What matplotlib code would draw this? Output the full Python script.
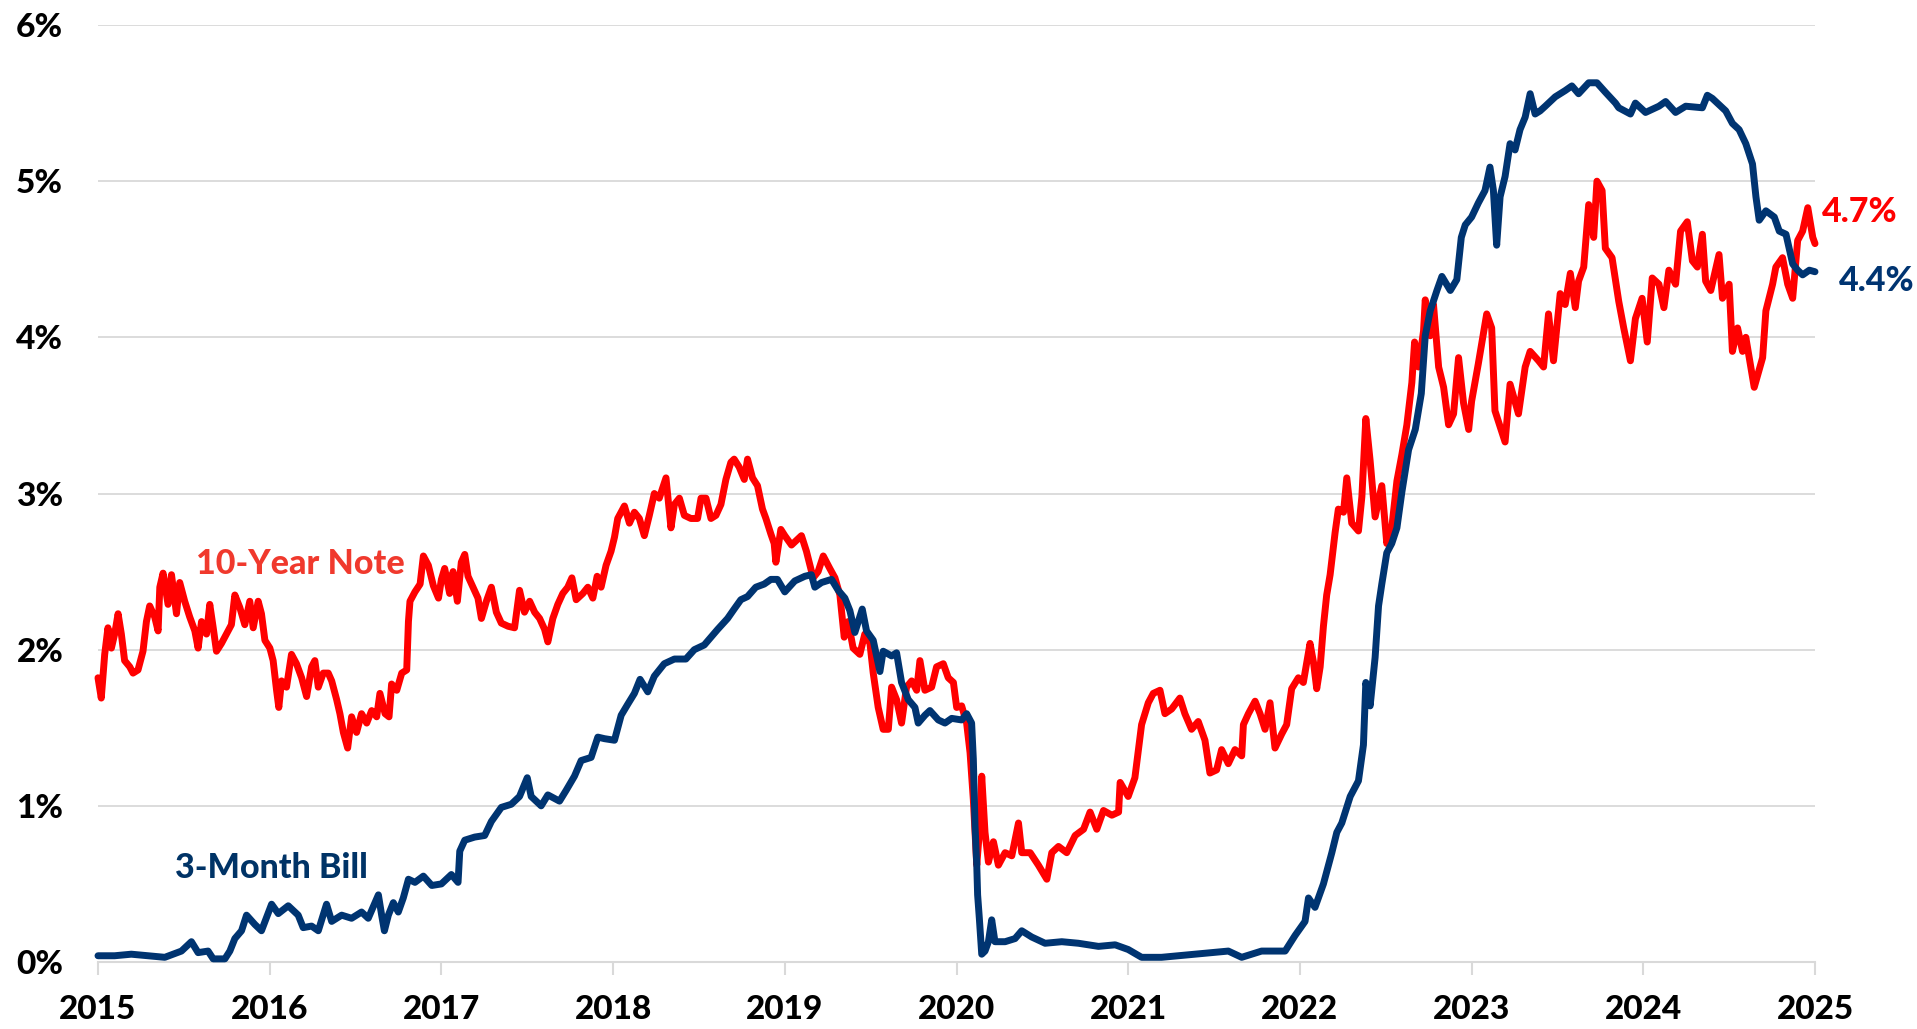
import numpy as np
import matplotlib
matplotlib.use("Agg")
import matplotlib.pyplot as plt

# 10-year note yield (%), by two-year block
ten_x_15 = [2015.000, 2015.019, 2015.039, 2015.058, 2015.078, 2015.097, 2015.117, 2015.136, 2015.155, 2015.185,
            2015.204, 2015.233, 2015.262, 2015.282, 2015.301, 2015.330, 2015.350, 2015.360, 2015.379, 2015.408,
            2015.428, 2015.457, 2015.476, 2015.505, 2015.534, 2015.564, 2015.583, 2015.603, 2015.632, 2015.651,
            2015.671, 2015.690, 2015.719, 2015.748, 2015.777, 2015.797, 2015.826, 2015.855, 2015.884, 2015.904,
            2015.933, 2015.952, 2015.972, 2016.001, 2016.020, 2016.040, 2016.053, 2016.069, 2016.098, 2016.127,
            2016.156, 2016.186, 2016.215, 2016.244, 2016.263, 2016.283, 2016.312, 2016.341, 2016.361, 2016.390,
            2016.409, 2016.429, 2016.454, 2016.477, 2016.506, 2016.535, 2016.565, 2016.594, 2016.623, 2016.642,
            2016.672, 2016.695, 2016.710, 2016.740, 2016.769, 2016.798, 2016.808, 2016.817, 2016.846, 2016.876,
            2016.895, 2016.924, 2016.953, 2016.983]
ten_y_15 = [1.82, 1.69, 1.97, 2.14, 2.01, 2.10, 2.23, 2.10, 1.93, 1.89,
            1.85, 1.87, 1.99, 2.18, 2.28, 2.21, 2.12, 2.40, 2.49, 2.29,
            2.48, 2.23, 2.43, 2.31, 2.21, 2.12, 2.01, 2.18, 2.10, 2.29,
            2.14, 1.99, 2.04, 2.10, 2.16, 2.35, 2.27, 2.16, 2.31, 2.14,
            2.31, 2.23, 2.06, 2.01, 1.93, 1.74, 1.63, 1.80, 1.76, 1.97,
            1.91, 1.82, 1.70, 1.89, 1.93, 1.76, 1.85, 1.85, 1.80, 1.68,
            1.59, 1.47, 1.37, 1.57, 1.47, 1.59, 1.53, 1.61, 1.57, 1.72,
            1.59, 1.57, 1.78, 1.74, 1.85, 1.87, 2.18, 2.31, 2.37, 2.42,
            2.60, 2.54, 2.41, 2.33]

ten_x_17 = [2017.000, 2017.019, 2017.048, 2017.068, 2017.093, 2017.116, 2017.136, 2017.155, 2017.184, 2017.213,
            2017.233, 2017.262, 2017.291, 2017.320, 2017.349, 2017.388, 2017.426, 2017.455, 2017.484, 2017.514,
            2017.543, 2017.572, 2017.601, 2017.620, 2017.649, 2017.678, 2017.707, 2017.736, 2017.760, 2017.785,
            2017.824, 2017.853, 2017.882, 2017.907, 2017.930, 2017.959, 2017.988, 2018.008, 2018.027, 2018.066,
            2018.095, 2018.124, 2018.153, 2018.182, 2018.211, 2018.240, 2018.269, 2018.308, 2018.337, 2018.357,
            2018.386, 2018.415, 2018.453, 2018.492, 2018.512, 2018.541, 2018.570, 2018.599, 2018.628, 2018.657,
            2018.686, 2018.705, 2018.734, 2018.764, 2018.783, 2018.812, 2018.841, 2018.870, 2018.890, 2018.919,
            2018.938, 2018.948, 2018.977]
ten_y_17 = [2.45, 2.52, 2.36, 2.50, 2.31, 2.56, 2.61, 2.47, 2.40, 2.33,
            2.20, 2.31, 2.40, 2.24, 2.17, 2.15, 2.14, 2.38, 2.24, 2.31,
            2.24, 2.20, 2.13, 2.05, 2.20, 2.29, 2.36, 2.40, 2.46, 2.32,
            2.36, 2.40, 2.33, 2.47, 2.40, 2.54, 2.63, 2.72, 2.84, 2.92,
            2.81, 2.88, 2.84, 2.73, 2.86, 3.00, 2.97, 3.10, 2.78, 2.93,
            2.97, 2.86, 2.84, 2.84, 2.97, 2.97, 2.84, 2.86, 2.93, 3.09,
            3.20, 3.22, 3.17, 3.09, 3.22, 3.10, 3.05, 2.90, 2.84, 2.74,
            2.68, 2.56, 2.77]

ten_x_19 = [2019.000, 2019.039, 2019.097, 2019.126, 2019.165, 2019.194, 2019.224, 2019.262, 2019.292, 2019.321,
            2019.346, 2019.369, 2019.398, 2019.437, 2019.466, 2019.496, 2019.515, 2019.544, 2019.573, 2019.603,
            2019.622, 2019.651, 2019.680, 2019.709, 2019.739, 2019.768, 2019.787, 2019.816, 2019.855, 2019.884,
            2019.923, 2019.952, 2019.982, 2020.001, 2020.030, 2020.059, 2020.079, 2020.098, 2020.118, 2020.133,
            2020.147, 2020.166, 2020.186, 2020.215, 2020.244, 2020.283, 2020.322, 2020.361, 2020.380, 2020.429,
            2020.477, 2020.526, 2020.555, 2020.594, 2020.642, 2020.691, 2020.740, 2020.778, 2020.817, 2020.856,
            2020.905, 2020.944, 2020.953]
ten_y_19 = [2.73, 2.67, 2.73, 2.63, 2.46, 2.50, 2.60, 2.52, 2.46, 2.35,
            2.08, 2.18, 2.01, 1.97, 2.10, 2.04, 1.85, 1.63, 1.49, 1.49,
            1.76, 1.68, 1.53, 1.76, 1.80, 1.74, 1.93, 1.74, 1.76, 1.89,
            1.91, 1.82, 1.79, 1.63, 1.64, 1.53, 1.34, 1.04, 0.62, 0.83,
            1.19, 0.83, 0.64, 0.77, 0.62, 0.70, 0.68, 0.89, 0.70, 0.70,
            0.62, 0.53, 0.70, 0.74, 0.70, 0.81, 0.85, 0.96, 0.85, 0.97,
            0.94, 0.96, 1.15]

ten_x_21 = [2021.000, 2021.039, 2021.078, 2021.117, 2021.146, 2021.185, 2021.214, 2021.253, 2021.301, 2021.330,
            2021.369, 2021.408, 2021.447, 2021.476, 2021.515, 2021.544, 2021.583, 2021.622, 2021.661, 2021.671,
            2021.700, 2021.739, 2021.768, 2021.797, 2021.826, 2021.855, 2021.894, 2021.923, 2021.952, 2021.991,
            2022.020, 2022.059, 2022.079, 2022.098, 2022.118, 2022.137, 2022.156, 2022.176, 2022.205, 2022.224,
            2022.254, 2022.273, 2022.302, 2022.341, 2022.361, 2022.384, 2022.409, 2022.438, 2022.477, 2022.506,
            2022.535, 2022.565, 2022.594, 2022.623, 2022.652, 2022.668, 2022.691, 2022.720, 2022.730, 2022.759,
            2022.778, 2022.808, 2022.837, 2022.866, 2022.895, 2022.924, 2022.953, 2022.983]
ten_y_21 = [1.06, 1.18, 1.52, 1.66, 1.72, 1.74, 1.59, 1.62, 1.69, 1.59,
            1.49, 1.54, 1.42, 1.21, 1.23, 1.36, 1.27, 1.36, 1.32, 1.52,
            1.59, 1.67, 1.59, 1.49, 1.66, 1.37, 1.46, 1.52, 1.75, 1.82,
            1.79, 2.04, 1.92, 1.75, 1.89, 2.15, 2.35, 2.48, 2.75, 2.90,
            2.88, 3.10, 2.81, 2.76, 2.98, 3.48, 3.21, 2.85, 3.05, 2.68,
            2.78, 3.08, 3.25, 3.44, 3.71, 3.97, 3.81, 4.04, 4.24, 4.01,
            4.21, 3.81, 3.68, 3.44, 3.51, 3.87, 3.58, 3.41]

ten_x_23 = [2023.000, 2023.039, 2023.088, 2023.117, 2023.136, 2023.195, 2023.224, 2023.273, 2023.312, 2023.341,
            2023.390, 2023.419, 2023.448, 2023.477, 2023.516, 2023.545, 2023.575, 2023.604, 2023.623, 2023.653,
            2023.682, 2023.711, 2023.730, 2023.760, 2023.779, 2023.818, 2023.857, 2023.886, 2023.925, 2023.954,
            2023.993, 2024.023, 2024.052, 2024.091, 2024.120, 2024.149, 2024.188, 2024.217, 2024.256, 2024.286,
            2024.315, 2024.344, 2024.363, 2024.393, 2024.441, 2024.461, 2024.500, 2024.519, 2024.549, 2024.578,
            2024.597, 2024.646, 2024.695, 2024.714, 2024.753, 2024.772, 2024.811, 2024.841, 2024.870, 2024.899,
            2024.928, 2024.958, 2024.987, 2025.000]
ten_y_23 = [3.59, 3.83, 4.15, 4.06, 3.53, 3.33, 3.70, 3.51, 3.81, 3.91,
            3.85, 3.81, 4.15, 3.85, 4.28, 4.21, 4.41, 4.19, 4.36, 4.45,
            4.85, 4.64, 5.00, 4.94, 4.57, 4.51, 4.23, 4.06, 3.85, 4.12,
            4.25, 3.97, 4.38, 4.34, 4.19, 4.43, 4.34, 4.68, 4.74, 4.49,
            4.45, 4.66, 4.36, 4.30, 4.53, 4.25, 4.34, 3.91, 4.06, 3.91,
            4.00, 3.68, 3.87, 4.17, 4.34, 4.45, 4.51, 4.34, 4.25, 4.62,
            4.68, 4.83, 4.64, 4.60]

# 3-month bill yield (%)
bill_x_15 = [2015.000, 2015.097, 2015.194, 2015.292, 2015.389, 2015.486, 2015.544, 2015.583, 2015.641, 2015.671,
             2015.739, 2015.768, 2015.797, 2015.836, 2015.865, 2015.914, 2015.952, 2016.011, 2016.050, 2016.108,
             2016.166, 2016.195, 2016.244, 2016.283, 2016.331, 2016.361, 2016.419, 2016.477, 2016.535, 2016.574,
             2016.633, 2016.652, 2016.668, 2016.691, 2016.720, 2016.749, 2016.778, 2016.808, 2016.846, 2016.895,
             2016.944]
bill_y_15 = [0.04, 0.04, 0.05, 0.04, 0.03, 0.07, 0.13, 0.06, 0.07, 0.02,
             0.02, 0.07, 0.15, 0.20, 0.30, 0.24, 0.20, 0.37, 0.31, 0.36,
             0.30, 0.22, 0.23, 0.20, 0.37, 0.26, 0.30, 0.28, 0.32, 0.28,
             0.43, 0.30, 0.20, 0.30, 0.38, 0.32, 0.41, 0.53, 0.51, 0.55,
             0.49]

bill_x_17 = [2017.000, 2017.058, 2017.097, 2017.107, 2017.136, 2017.194, 2017.252, 2017.291, 2017.349, 2017.407,
             2017.455, 2017.500, 2017.523, 2017.581, 2017.620, 2017.688, 2017.727, 2017.775, 2017.814, 2017.872,
             2017.911, 2017.950, 2018.008, 2018.047, 2018.085, 2018.124, 2018.157, 2018.202, 2018.240, 2018.298,
             2018.357, 2018.424, 2018.473, 2018.531, 2018.570, 2018.609, 2018.667, 2018.705, 2018.744, 2018.783,
             2018.831, 2018.880, 2018.919, 2018.957]
bill_y_17 = [0.50, 0.56, 0.51, 0.71, 0.78, 0.80, 0.81, 0.90, 0.99, 1.01,
             1.06, 1.18, 1.06, 1.00, 1.07, 1.03, 1.10, 1.19, 1.29, 1.31,
             1.44, 1.43, 1.42, 1.58, 1.65, 1.72, 1.81, 1.73, 1.83, 1.91,
             1.94, 1.94, 2.00, 2.03, 2.08, 2.13, 2.20, 2.26, 2.32, 2.34,
             2.40, 2.42, 2.45, 2.45]

bill_x_19 = [2019.000, 2019.058, 2019.117, 2019.155, 2019.175, 2019.214, 2019.272, 2019.311, 2019.350, 2019.379,
             2019.408, 2019.451, 2019.476, 2019.515, 2019.554, 2019.573, 2019.622, 2019.651, 2019.680, 2019.719,
             2019.758, 2019.777, 2019.816, 2019.845, 2019.894, 2019.933, 2019.972, 2020.030, 2020.059, 2020.088,
             2020.098, 2020.108, 2020.118, 2020.123, 2020.133, 2020.147, 2020.166, 2020.186, 2020.205, 2020.224,
             2020.283, 2020.341, 2020.380, 2020.438, 2020.516, 2020.613, 2020.710, 2020.827, 2020.924]
bill_y_19 = [2.37, 2.44, 2.47, 2.48, 2.40, 2.43, 2.45, 2.38, 2.33, 2.25,
             2.11, 2.26, 2.12, 2.06, 1.86, 1.99, 1.96, 1.98, 1.79, 1.68,
             1.63, 1.53, 1.58, 1.61, 1.55, 1.53, 1.56, 1.55, 1.59, 1.53,
             1.30, 0.87, 0.62, 0.43, 0.28, 0.05, 0.07, 0.13, 0.27, 0.13,
             0.13, 0.15, 0.20, 0.16, 0.12, 0.13, 0.12, 0.10, 0.11]

bill_x_21 = [2021.000, 2021.078, 2021.194, 2021.389, 2021.583, 2021.661, 2021.777, 2021.914, 2021.972, 2022.030,
             2022.050, 2022.088, 2022.137, 2022.186, 2022.215, 2022.244, 2022.293, 2022.341, 2022.370, 2022.384,
             2022.409, 2022.438, 2022.458, 2022.477, 2022.506, 2022.535, 2022.565, 2022.594, 2022.633, 2022.672,
             2022.707, 2022.730, 2022.759, 2022.798, 2022.827, 2022.876, 2022.914, 2022.940, 2022.963]
bill_y_21 = [0.08, 0.03, 0.03, 0.05, 0.07, 0.03, 0.07, 0.07, 0.17, 0.26,
             0.41, 0.35, 0.50, 0.70, 0.83, 0.89, 1.06, 1.16, 1.39, 1.79,
             1.64, 1.95, 2.28, 2.42, 2.62, 2.68, 2.78, 3.01, 3.28, 3.41,
             3.64, 4.01, 4.17, 4.30, 4.39, 4.30, 4.37, 4.64, 4.72]

bill_x_23 = [2023.000, 2023.039, 2023.078, 2023.107, 2023.127, 2023.146, 2023.166, 2023.195, 2023.224, 2023.253,
             2023.282, 2023.312, 2023.341, 2023.370, 2023.399, 2023.429, 2023.487, 2023.545, 2023.584, 2023.623,
             2023.682, 2023.730, 2023.779, 2023.838, 2023.857, 2023.925, 2023.954, 2024.013, 2024.091, 2024.130,
             2024.188, 2024.247, 2024.344, 2024.373, 2024.402, 2024.480, 2024.519, 2024.558, 2024.597, 2024.636,
             2024.656, 2024.675, 2024.714, 2024.763, 2024.792, 2024.831, 2024.870, 2024.899, 2024.928, 2024.967,
             2025.000]
bill_y_23 = [4.77, 4.86, 4.94, 5.09, 4.94, 4.59, 4.90, 5.03, 5.24, 5.20,
             5.33, 5.41, 5.56, 5.43, 5.45, 5.48, 5.54, 5.58, 5.61, 5.56,
             5.63, 5.63, 5.57, 5.50, 5.47, 5.43, 5.50, 5.44, 5.48, 5.51,
             5.44, 5.48, 5.47, 5.55, 5.53, 5.45, 5.37, 5.33, 5.24, 5.11,
             4.90, 4.75, 4.81, 4.77, 4.68, 4.66, 4.47, 4.43, 4.40, 4.43,
             4.42]

years = list(range(2015, 2026))
y_ticks = [0, 1, 2, 3, 4, 5, 6]
ten_label = "10-Year Note"
bill_label = "3-Month Bill"
ten_last = "4.7%"
bill_last = "4.4%"

RED = "#FF0000"
NAVY = "#003471"
GRID = "#D9D9D9"

ten_x = np.concatenate([ten_x_15, ten_x_17, ten_x_19, ten_x_21, ten_x_23])
ten_y = np.concatenate([ten_y_15, ten_y_17, ten_y_19, ten_y_21, ten_y_23])
bill_x = np.concatenate([bill_x_15, bill_x_17, bill_x_19, bill_x_21, bill_x_23])
bill_y = np.concatenate([bill_y_15, bill_y_17, bill_y_19, bill_y_21, bill_y_23])

plt.rcParams['font.family'] = ['Lato', 'DejaVu Sans']
WEIGHT = 900

W, H = 1917, 1029
fig = plt.figure(figsize=(W / 100, H / 100), dpi=100)
ax = fig.add_axes([98 / W, 1 - 962 / H, (1815 - 98) / W, (962 - 25) / H])

ax.plot(ten_x, ten_y, color=RED, lw=5.0, solid_joinstyle='round', solid_capstyle='round', zorder=3, clip_on=False)
ax.plot(bill_x, bill_y, color=NAVY, lw=5.0, solid_joinstyle='round', solid_capstyle='round', zorder=4, clip_on=False)

ax.set_xlim(2015, 2025)
ax.set_ylim(0, 6)
ax.set_xticks(years)
ax.set_xticklabels([str(y) for y in years])
ax.set_yticks(y_ticks)
ax.set_yticklabels([f"{v}%" for v in y_ticks])
ax.grid(axis='y', color=GRID, lw=1.3)
ax.set_axisbelow(True)

for side in ['top', 'right', 'left']:
    ax.spines[side].set_visible(False)
ax.spines['bottom'].set_color(GRID)
ax.spines['bottom'].set_linewidth(1.5)
ax.tick_params(axis='x', length=9, width=1.5, color=GRID, pad=15, labelsize=24, labelcolor='black')
ax.tick_params(axis='y', length=0, pad=25, labelsize=24, labelcolor='black')
for lab in ax.get_xticklabels() + ax.get_yticklabels():
    lab.set_fontweight(WEIGHT)

ax.text(2016.18, 2.55, ten_label, color="#F0392D", fontsize=24.5, fontweight=WEIGHT, ha='center', va='center')
ax.text(2016.01, 0.60, bill_label, color="#003366", fontsize=24.5, fontweight=WEIGHT, ha='center', va='center')
ax.text(2025.04, 4.80, ten_last, color=RED, fontsize=24.5, fontweight=WEIGHT, ha='left', va='center', clip_on=False)
ax.text(2025.14, 4.36, bill_last, color=NAVY, fontsize=24.5, fontweight=WEIGHT, ha='left', va='center', clip_on=False)

fig.savefig("out.png", dpi=100)
